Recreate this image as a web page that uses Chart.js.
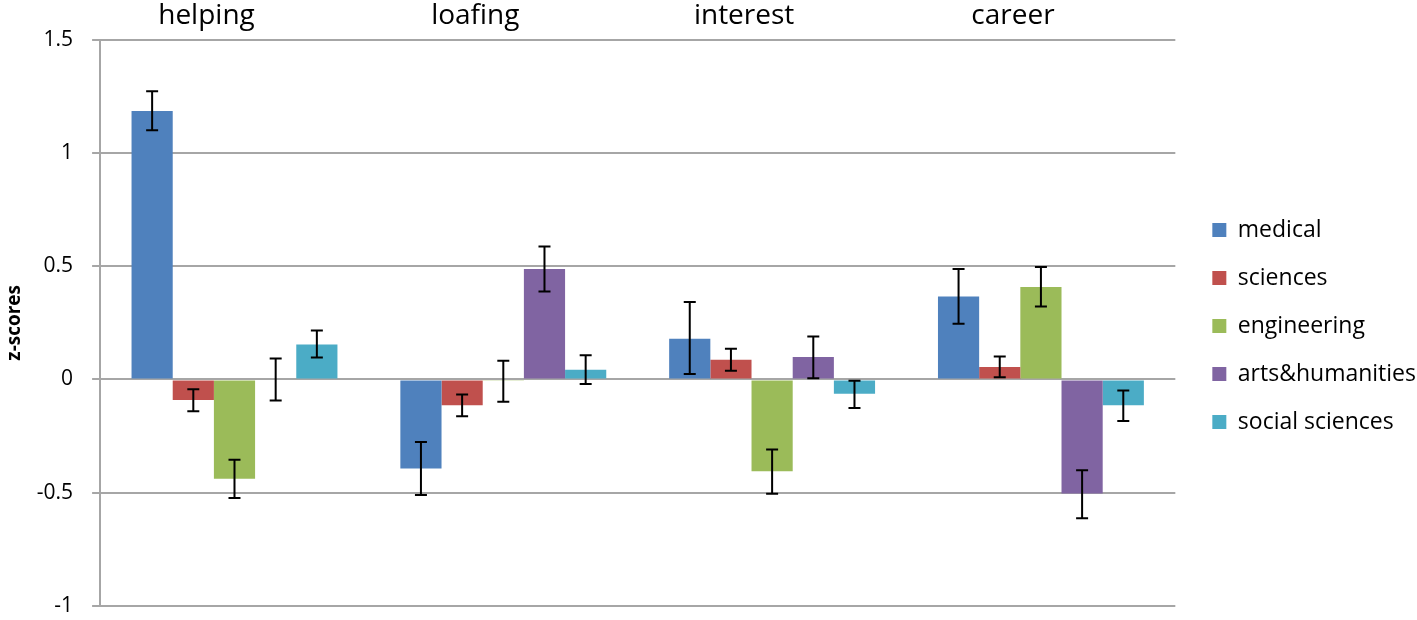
<!DOCTYPE html>
<html lang="en">
<head>
  <meta charset="UTF-8">
  <title>z-scores by field</title>
  <style>
    html, body { margin: 0; padding: 0; background: #fff; }
    .wrap { width: 1417px; height: 620px; }
  </style>
</head>
<body>
  <div class="wrap">
    <canvas class="barChart" width="1417" height="620"></canvas>
  </div>

  <script src="https://cdn.jsdelivr.net/npm/chart.js"></script>
  <script>

const categories = ['helping', 'loafing', 'interest', 'career'];
const fields = ['medical', 'sciences', 'engineering', 'arts&humanities', 'social sciences'];
const colors = ['#4F81BD', '#C0504D', '#9BBB59', '#8064A2', '#4BACC6'];

// mean z-scores per field, in category order
const medical = [1.185, -0.393, 0.180, 0.366];
const sciences = [-0.091, -0.114, 0.087, 0.055];
const engineering = [-0.438, -0.006, -0.405, 0.408];
const arts = [0.000, 0.487, 0.099, -0.503];
const social = [0.154, 0.043, -0.063, -0.114];

// error bar ends (low, high)
const medicalErr = [[1.100, 1.272], [-0.510, -0.276], [0.024, 0.342], [0.246, 0.487]];
const sciencesErr = [[-0.140, -0.043], [-0.163, -0.067], [0.038, 0.135], [0.010, 0.101]];
const engineeringErr = [[-0.523, -0.355], [-0.099, 0.083], [-0.505, -0.309], [0.322, 0.496]];
const artsErr = [[-0.093, 0.092], [0.388, 0.587], [0.005, 0.190], [-0.613, -0.401]];
const socialErr = [[0.097, 0.216], [-0.020, 0.107], [-0.126, -0.006], [-0.183, -0.049]];

const yTicks = [-1, -0.5, 0, 0.5, 1, 1.5];

const values = [medical, sciences, engineering, arts, social];
const errors = [medicalErr, sciencesErr, engineeringErr, artsErr, socialErr];

const fontFamily = "'Open Sans', 'Noto Sans', sans-serif";

// draws the black error bars using the chart's own scales
const errorBars = {
  id: 'errorBars',
  afterDatasetsDraw(chart) {
    const ctx = chart.ctx;
    const y = chart.scales.y;
    ctx.save();
    ctx.strokeStyle = '#000';
    ctx.lineWidth = 2;
    chart.data.datasets.forEach((ds, i) => {
      const meta = chart.getDatasetMeta(i);
      meta.data.forEach((bar, j) => {
        const e = ds.errors[j];
        const x = bar.x;
        const y1 = y.getPixelForValue(e[0]);
        const y2 = y.getPixelForValue(e[1]);
        const cap = 6;
        ctx.beginPath();
        ctx.moveTo(x, y1); ctx.lineTo(x, y2);
        ctx.moveTo(x - cap, y1); ctx.lineTo(x + cap, y1);
        ctx.moveTo(x - cap, y2); ctx.lineTo(x + cap, y2);
        ctx.stroke();
      });
    });
    ctx.restore();
  }
};

// nudge the legend block a little (right and down)
const legendShift = {
  id: 'legendShift',
  afterLayout(chart) {
    const lg = chart.legend;
    if (!lg) return;
    lg.left += 12; lg.right += 12;
    lg.top += 23; lg.bottom += 23;
  }
};

let canvas = document.querySelector('.barChart');
let context = canvas.getContext('2d');

let data = {
  labels: categories,
  datasets: fields.map((name, i) => ({
    label: name,
    data: values[i],
    errors: errors[i],
    backgroundColor: colors[i],
    borderWidth: 0,
    categoryPercentage: 0.766,
    barPercentage: 1.0
  }))
};

let config = {
  type: 'bar',
  data: data,
  options: {
    responsive: false,
    animation: false,
    devicePixelRatio: 1,
    layout: {
      padding: { left: 0, right: 3, top: 0, bottom: 14 }
    },
    plugins: {
      legend: {
        position: 'right',
        labels: {
          boxWidth: 14,
          boxHeight: 14,
          padding: 25,
          color: '#000',
          font: { family: fontFamily, size: 23 }
        }
      },
      tooltip: { enabled: false }
    },
    scales: {
      x: {
        position: 'top',
        grid: { display: false },
        border: { display: false },
        ticks: {
          color: '#000',
          padding: -1,
          labelOffset: -28,
          font: { family: fontFamily, size: 28 }
        }
      },
      y: {
        min: -1,
        max: 1.5,
        afterBuildTicks: (axis) => {
          axis.ticks = yTicks.map(v => ({ value: v }));
        },
        afterFit: (axis) => {
          axis.paddingBottom = 0;
        },
        grid: {
          color: '#a6a6a6',
          lineWidth: 2,
          tickLength: 8
        },
        border: { display: true, color: '#a6a6a6', width: 2 },
        ticks: {
          color: '#000',
          padding: 19,
          font: { family: fontFamily, size: 21 },
          callback: (v) => String(v)
        },
        title: {
          display: true,
          text: 'z-scores',
          color: '#000',
          padding: { top: 3, bottom: -8 },
          font: { family: fontFamily, size: 19, weight: 'bold' }
        }
      }
    }
  },
  plugins: [errorBars, legendShift]
};

new Chart(context, config);

  </script>
</body>
</html>
